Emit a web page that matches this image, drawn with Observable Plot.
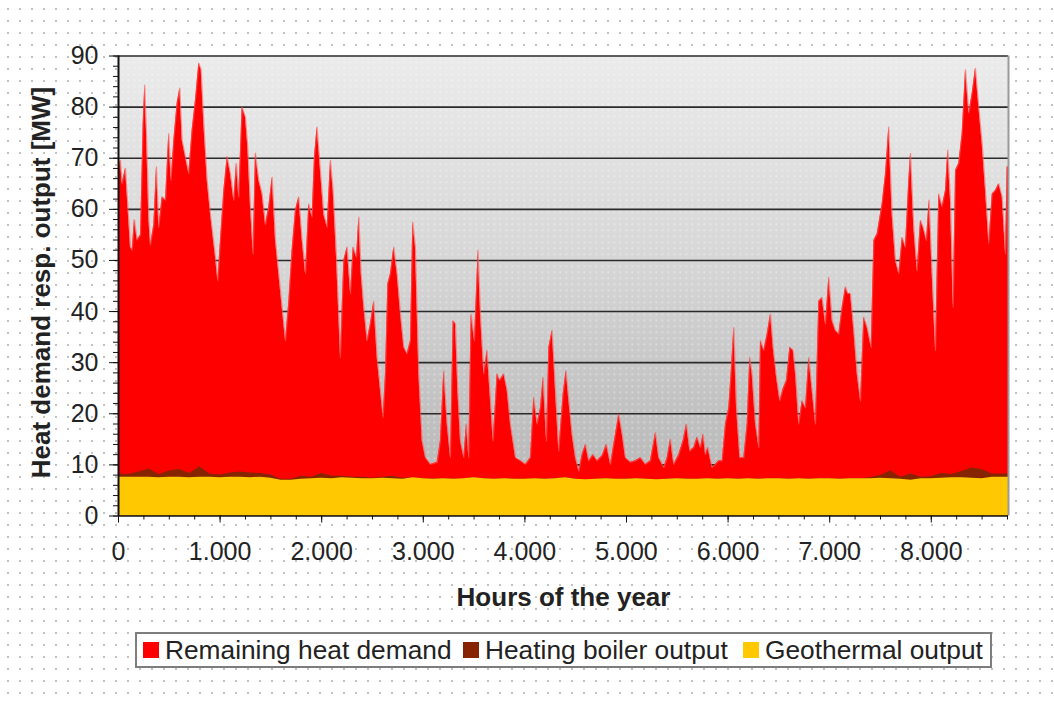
<!DOCTYPE html>
<html><head><meta charset="utf-8">
<script src="https://cdn.jsdelivr.net/npm/d3@7"></script>
<script src="https://cdn.jsdelivr.net/npm/@observablehq/plot@0.6"></script>
<style>
html,body{margin:0;padding:0;}
body{width:1054px;height:702px;position:relative;overflow:hidden;background-color:#fff;
 background-image:radial-gradient(circle,#c2c2c2 0.9px,transparent 1.4px);background-size:12px 12px;background-position:2px 3px;
 font-family:"Liberation Sans",Arial,sans-serif;}
#chart{position:absolute;left:0;top:0;}
#legend{position:absolute;left:135px;top:632px;width:853px;height:32px;border:2px solid #7d7d7d;background:#fff;font-size:26.3px;color:#222;}
.sw{position:absolute;top:8px;width:16px;height:16px;}
.lt{position:absolute;top:2px;white-space:nowrap;line-height:28px;}
</style></head>
<body>
<div id="chart"></div>
<div id="legend"></div>
<script>
const demandHours = [
0,20,36,69,85,118,135,157,184,217,
243,259,276,299,315,348,374,397,430,463,
495,518,545,577,604,627,659,692,725,758,
791,814,840,873,906,955,978,1004,1037,1070,
1102,1135,1161,1184,1217,1250,1273,1299,1326,1348,
1381,1414,1447,1480,1513,1545,1578,1611,1644,1677,
1709,1742,1775,1808,1841,1873,1906,1929,1955,1988,
2021,2054,2087,2113,2146,2185,2218,2251,2284,2310,
2343,2366,2389,2415,2448,2480,2513,2546,2579,2605,
2628,2651,2677,2710,2743,2776,2809,2841,2874,2897,
2923,2956,2989,3022,3071,3137,3169,3202,3235,3268,
3294,3317,3340,3366,3399,3425,3448,3471,3504,3540,
3563,3596,3629,3655,3688,3727,3753,3793,3826,3858,
3908,3957,4006,4055,4088,4121,4154,4180,4213,4236,
4269,4301,4334,4377,4406,4433,4465,4498,4531,4564,
4597,4629,4672,4712,4761,4803,4843,4892,4925,4958,
4990,5040,5089,5138,5187,5236,5286,5318,5368,5401,
5433,5466,5515,5558,5591,5624,5663,5696,5729,5755,
5778,5801,5843,5876,5909,5942,5975,6007,6030,6057,
6083,6116,6155,6188,6214,6237,6270,6303,6319,6352,
6385,6418,6444,6477,6510,6542,6575,6608,6641,6664,
6696,6729,6762,6795,6828,6861,6893,6926,6959,6992,
7025,7057,7090,7123,7156,7179,7205,7238,7271,7304,
7336,7369,7409,7435,7468,7517,7550,7582,7615,7648,
7681,7714,7746,7779,7796,7828,7861,7894,7920,7953,
7979,8009,8042,8074,8107,8140,8163,8189,8216,8239,
8271,8304,8337,8370,8403,8435,8468,8501,8534,8567,
8600,8632,8665,8698,8731,8747,8760];
const demand = [
68,69.6,65,68,63,52.6,52,58,54,55,
76.8,84.3,74.8,58,53,57,68.3,56.5,62.4,61.8,
74.8,65.7,73.5,80.7,83.7,73.5,70.3,67,75.5,81.4,
88.6,87.3,76.8,65.7,59,50.6,46,54,63.7,70.3,
67,61.8,69,62.4,80,78,72.2,60.5,51.3,71,
65.7,63,57,60.5,66.3,54,47.4,40.8,34.3,42,
52,59.8,62.4,54,47.4,61,58.5,70.3,76.1,67.6,
59,56.5,69.6,63.7,50.6,31,50,52.6,43.5,52.6,
50.6,58.5,47.4,40.8,34.3,37.6,42,31,24.5,19.3,
27.8,45.4,47.4,52.6,47.4,39.5,33,31.7,34.3,57.5,
52.6,27.8,14.7,11.4,10.1,10.5,14.7,28.4,18,11.4,
38.2,37.6,24.5,14.7,11.4,18,11.4,39.5,34.3,52,
39.5,27.8,32.4,24.5,14.7,27.8,26.5,27.8,24.5,18,
11.4,10.8,10.1,11.4,23.2,18,21.2,27.1,14.7,33,
36.3,24.5,12.7,23.9,28.4,22.5,16,11.4,8.8,12,
14,10.8,12,10.8,11.8,14,10.1,16,19.9,16,
11.4,10.5,10.8,11.4,10.1,10.8,16.3,11.4,9.5,11.4,
15,10.1,12,14.7,18,12.7,13.4,15.4,13.4,16,
12,13.4,9.5,10.1,10.8,10.8,18,21.2,27.8,36.9,
21.2,11.4,11.4,18,31,27.8,18,13.4,34.3,32.4,
35.6,39.5,33,27.1,22.5,24.9,26.5,33,32.4,27.8,
18,22.5,21.2,31,24.5,18,42,42.7,37.6,46.7,
38.2,36.3,35.6,40.8,44.8,43.5,43.5,36.3,27.8,22.5,
38.9,36.9,33,53.9,55.2,61.1,67,76.1,59,50,
47.4,54.5,52.6,65.7,70.9,56.5,48,57.8,56.5,53.9,
61.8,47.4,32.4,63,60.5,63.7,71.6,61.8,40.8,67.6,
69,74.8,87.3,78.8,82.7,87.6,80,72.9,63.7,53.3,
63,63.7,65,62.4,51.3,68.3,68.3];

// Geothermal and boiler output (MW) on a 100-hour grid
const gridHours = [...d3.range(0, 8760, 100), 8760];
const geothermal = [
7.6,7.6,7.6,7.6,7.5,7.6,7.6,7.5,7.6,7.6,
7.5,7.6,7.6,7.5,7.6,7.4,7.0,7.0,7.2,7.3,
7.4,7.3,7.5,7.4,7.3,7.3,7.4,7.3,7.2,7.5,
7.3,7.2,7.3,7.2,7.3,7.5,7.3,7.2,7.3,7.2,
7.2,7.3,7.2,7.3,7.5,7.2,7.1,7.2,7.3,7.2,
7.2,7.3,7.2,7.1,7.2,7.3,7.2,7.2,7.3,7.2,
7.3,7.2,7.3,7.2,7.3,7.3,7.2,7.3,7.2,7.3,
7.3,7.2,7.3,7.3,7.3,7.4,7.3,7.2,7.0,7.3,
7.3,7.4,7.5,7.5,7.4,7.3,7.6,7.6,
7.6];
const boiler = [
0.6,0.5,1.0,1.6,0.6,1.2,1.5,0.8,2.0,0.6,
0.5,0.8,1.0,0.9,0.7,0.6,0.2,0.2,0.6,0.3,
0.9,0.5,0.3,0.2,0.3,0.1,0.2,0.5,0.2,0,
0,0,0,0,0,0,0,0,0,0,
0,0,0,0,0,0,0,0,0,0,
0,0,0,0,0,0,0,0,0,0,
0,0,0,0,0,0,0,0,0,0,
0,0,0,0,0.2,0.5,1.5,0.4,1.2,0.3,
0.4,0.9,0.6,1.2,2.0,1.8,0.6,0.6,
0.6];

const seriesNames = ["Remaining heat demand", "Heating boiler output", "Geothermal output"];
const seriesColors = ["#ff0000", "#862400", "#ffc800"];
const yTicks = d3.range(0, 91, 10);
const yMinor = d3.range(0, 91, 2);
const xTicks = d3.range(0, 8001, 1000);
const xMinor = d3.range(0, 8760, 250);
const yTitle = "Heat demand resp. output [MW]";
const xTitle = "Hours of the year";

const demandData = demandHours.map((h, i) => ({h, v: demand[i]}));
const baseData = gridHours.map((h, i) => ({h, geo: geothermal[i], top: geothermal[i] + boiler[i]}));
const fmt = d => d3.format(",")(d).replace(/,/g, ".");

const svg = Plot.plot({
  width: 1054, height: 620,
  marginLeft: 118, marginRight: 46, marginTop: 55.5, marginBottom: 104.5,
  style: {background: "transparent", fontFamily: "'Liberation Sans', Arial, sans-serif", fontSize: "25px", color: "#222", overflow: "visible"},
  x: {domain: [0, 8760], label: null},
  y: {domain: [0, 90], label: null},
  marks: [
    Plot.frame({fill: "url(#bgGrad)", stroke: null}),
    Plot.frame({fill: "url(#bgDots)", stroke: null}),
    Plot.ruleY(yTicks.slice(1), {stroke: "#2a2a2a", strokeWidth: 1.6}),
    Plot.areaY(demandData, {x: "h", y: "v", fill: seriesColors[0]}),
    Plot.lineY(demandData, {x: "h", y: "v", stroke: "#ff5a5a", strokeWidth: 1.2, strokeOpacity: 0.6}),
    Plot.areaY(baseData, {x: "h", y: "top", fill: seriesColors[1]}),
    Plot.areaY(baseData, {x: "h", y: "geo", fill: seriesColors[2]}),
    Plot.ruleX([8760], {stroke: "#9a9a9a", strokeWidth: 2}),
    Plot.ruleY([0], {stroke: "#111", strokeWidth: 1.6}),
    Plot.ruleX([0], {stroke: "#111", strokeWidth: 2}),
    Plot.axisY({ticks: yTicks, tickSize: 9, tickPadding: 11, tickFormat: d => String(d), fontSize: 25, label: null, stroke: "#111"}),
    Plot.axisY({ticks: yMinor, tickSize: 5, tickFormat: () => "", label: null, stroke: "#111"}),
    Plot.axisX({ticks: xTicks, tickSize: 7, tickPadding: 19, tickFormat: fmt, fontSize: 25, label: null, stroke: "#111"}),
    Plot.axisX({ticks: xMinor, tickSize: 4, tickFormat: () => "", label: null, stroke: "#111"}),
    Plot.text([yTitle], {frameAnchor: "left", textAnchor: "middle", lineAnchor: "middle", dx: -77, dy: -3.5, rotate: -90, fontWeight: "bold", fontSize: 26, fill: "#222"}),
    Plot.text([xTitle], {frameAnchor: "bottom", lineAnchor: "middle", dy: 81.5, fontWeight: "bold", fontSize: 26, fill: "#222"})
  ]
});
d3.select(svg).insert("defs", ":first-child").html(`
  <linearGradient id="bgGrad" x1="0" y1="0" x2="0" y2="1">
    <stop offset="0" stop-color="#ebebeb"/>
    <stop offset="0.45" stop-color="#d6d6d6"/>
    <stop offset="0.85" stop-color="#bcbcbc"/>
    <stop offset="1" stop-color="#bcbcbc"/>
  </linearGradient>
  <pattern id="bgDots" width="6" height="6" patternUnits="userSpaceOnUse">
    <rect x="1" y="1" width="1.5" height="1.5" fill="#ffffff" opacity="0.55"/>
  </pattern>`);
document.getElementById("chart").appendChild(svg);

const legend = d3.select("#legend");
const swX = [6, 326, 606], txX = [28, 348, 628];
seriesNames.forEach((name, i) => {
  legend.append("div").attr("class", "sw").style("left", swX[i] + "px").style("background", seriesColors[i]);
  legend.append("div").attr("class", "lt").style("left", txX[i] + "px").text(name);
});
</script>
</body></html>
